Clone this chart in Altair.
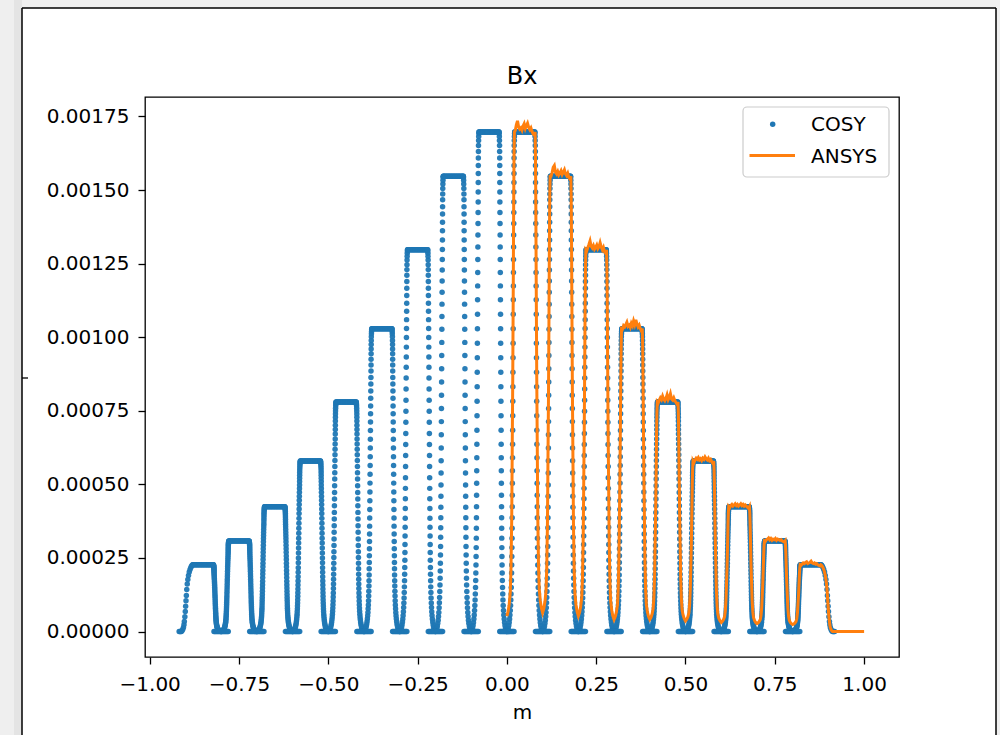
import altair as alt
import pandas as pd

# ---------------- values ----------------
pulse_centers = [-0.85, -0.75, -0.65, -0.55, -0.45, -0.35, -0.25, -0.15, -0.05,
                 0.05, 0.15, 0.25, 0.35, 0.45, 0.55, 0.65, 0.75, 0.85]
cosy_heights = [0.000227, 0.000308, 0.000424, 0.000579, 0.000780, 0.001029, 0.001297, 0.001547, 0.001697,
                0.001697, 0.001547, 0.001297, 0.001029, 0.000780, 0.000579, 0.000424, 0.000308, 0.000227]
plateau_half = 0.0305

# dots on one inner edge of a COSY pulse: fraction of height / outward distance from plateau edge
edge_frac = [0.000, 0.003, 0.007, 0.012, 0.018, 0.025, 0.033, 0.042, 0.052, 0.063,
             0.075, 0.088, 0.102, 0.117, 0.133, 0.150, 0.168, 0.187, 0.207, 0.228,
             0.250, 0.273, 0.297, 0.322, 0.348, 0.375, 0.403, 0.432, 0.461, 0.490,
             0.519, 0.548, 0.577, 0.606, 0.635, 0.664, 0.692, 0.719, 0.745, 0.770,
             0.794, 0.817, 0.839, 0.860, 0.880, 0.899, 0.917, 0.933, 0.948, 0.961,
             0.973, 0.983, 0.991, 0.997, 1.000]
edge_dx = [0.0190, 0.0172, 0.0156, 0.0142, 0.0130, 0.0119, 0.0109, 0.0100, 0.0092, 0.0085,
           0.0079, 0.0073, 0.0068, 0.0064, 0.0060, 0.0057, 0.0054, 0.0051, 0.0049, 0.0047,
           0.0045, 0.0043, 0.0041, 0.0039, 0.0037, 0.0035, 0.0033, 0.0031, 0.0029, 0.0027,
           0.0025, 0.0023, 0.0021, 0.0019, 0.0017, 0.0015, 0.0013, 0.0011, 0.0009, 0.0007,
           0.0005, 0.0003, 0.0001, -0.0001, -0.0002, -0.0003, -0.0004, -0.0005, -0.0006, -0.0008,
           -0.0010, -0.0013, -0.0016, -0.0020, -0.0025]
# outermost edges (x = -0.9 and x = +0.9 side)
outer_frac = [0.0, 0.01, 0.03, 0.06, 0.10, 0.15, 0.22, 0.30, 0.38, 0.46, 0.54,
              0.63, 0.71, 0.78, 0.84, 0.89, 0.93, 0.96, 0.98, 0.995, 1.0]
outer_dx = [0.031, 0.029, 0.027, 0.025, 0.0235, 0.0225, 0.021, 0.0198, 0.0188, 0.0178, 0.0168,
            0.0157, 0.0143, 0.0127, 0.0108, 0.0087, 0.0065, 0.0043, 0.0022, 0.0, -0.0015]
cosy_plateau = [-0.028, -0.026, -0.024, -0.022, -0.020, -0.018, -0.016, -0.014, -0.012, -0.010,
                -0.008, -0.006, -0.004, -0.002, 0.0, 0.002, 0.004, 0.006, 0.008, 0.010,
                0.012, 0.014, 0.016, 0.018, 0.020, 0.022, 0.024, 0.026, 0.028]
gap_positions = [-0.8, -0.7, -0.6, -0.5, -0.4, -0.3, -0.2, -0.1, 0.0,
                 0.1, 0.2, 0.3, 0.4, 0.5, 0.6, 0.7, 0.8]
gap_offsets = [-0.020, -0.0175, -0.015, -0.0125, -0.010, -0.0075, -0.005, -0.0025, 0.0,
               0.0025, 0.005, 0.0075, 0.010, 0.0125, 0.015, 0.0175, 0.020]
end_zero_dx = [0.033, 0.035, 0.037]

# ANSYS curve (x >= 0)
ansys_gap_levels = [0.000052, 0.000064, 0.000053, 0.000041, 0.000041, 0.000036, 0.000031, 0.000027, 0.000024]
ansys_edge_dx = [0.0195, 0.0160, 0.0130, 0.0100, 0.0080, 0.0060, 0.0045, 0.0030, 0.0015, 0.0005, -0.0005, -0.0015]
ansys_edge_frac = [0.0, 0.01, 0.025, 0.05, 0.10, 0.20, 0.35, 0.50, 0.70, 0.85, 0.95, 1.0]
ansys_plateau = [-0.0265, -0.0234, -0.0203, -0.0172, -0.0141, -0.0110, -0.0078, -0.0047, -0.0016,
                 0.0016, 0.0047, 0.0078, 0.0110, 0.0141, 0.0172, 0.0203, 0.0234, 0.0265]
ansys_noise_1e6 = [
    [5, 25, 38, 18, 10, 14, 6, 20, 28, 12, 22, 30, 16, 8, 14, 2, -6, -10],
    [0, 12, 30, 36, 14, 8, 16, 4, 10, 18, 6, 14, 22, 8, 2, 10, -4, -10],
    [-4, 8, 18, 30, 12, 6, 14, 2, 8, 16, 4, 10, 24, 10, 0, 8, -6, -12],
    [-2, 10, 6, 14, 22, 8, 12, 4, 18, 10, 26, 14, 30, 16, 6, 12, 0, -8],
    [-4, 6, 14, 8, 20, 10, 4, 12, 24, 8, 16, 28, 10, 6, 14, 4, -2, -8],
    [-6, 4, 10, 6, 12, 4, 8, 2, 10, 6, 14, 8, 4, 10, 2, 6, -2, -8],
    [-4, 4, 8, 2, 6, 10, 4, 8, 2, 6, 10, 4, 8, 2, 6, 2, -2, -6],
    [-2, 4, 6, 10, 4, 8, 2, 6, 4, 8, 2, 6, 4, 2, 4, 0, -2, -4],
    [-2, 2, 6, 4, 8, 10, 4, 6, 8, 12, 6, 4, 6, 2, 4, 0, -2, -4],
]
ansys_end_x = 1.0

x_ticks = [-1.0, -0.75, -0.5, -0.25, 0.0, 0.25, 0.5, 0.75, 1.0]
y_ticks = [0.0, 0.00025, 0.0005, 0.00075, 0.001, 0.00125, 0.0015, 0.00175]
legend_labels = ["COSY", "ANSYS"]
title_text = "Bx"
BLUE, ORANGE = "#1f77b4", "#ff7f0e"

# ---------------- build tables ----------------
cx, cy = [], []
n = len(pulse_centers)
for i, (c, h) in enumerate(zip(pulse_centers, cosy_heights)):
    lf, ld = (outer_frac, outer_dx) if i == 0 else (edge_frac, edge_dx)
    rf, rd = (outer_frac, outer_dx) if i == n - 1 else (edge_frac, edge_dx)
    for f, d in zip(lf, ld):
        cx.append(c - plateau_half - d); cy.append(f * h)
    for o in cosy_plateau:
        cx.append(c + o); cy.append(h)
    for f, d in zip(rf, rd):
        cx.append(c + plateau_half + d); cy.append(f * h)
for g in gap_positions:
    for o in gap_offsets:
        cx.append(g + o); cy.append(0.0)
for d in end_zero_dx:
    cx.append(pulse_centers[0] - plateau_half - d); cy.append(0.0)
    cx.append(pulse_centers[-1] + plateau_half + d); cy.append(0.0)
cosy = pd.DataFrame({"x": cx, "y": cy})

ax, ay = [], []
right_c = pulse_centers[9:]
right_h = cosy_heights[9:]
for k, (c, h) in enumerate(zip(right_c, right_h)):
    dl = ansys_gap_levels[k]
    for d, f in zip(ansys_edge_dx, ansys_edge_frac):
        ax.append(c - plateau_half - d); ay.append(dl + f * (h - dl))
    for o, e in zip(ansys_plateau, ansys_noise_1e6[k]):
        ax.append(c + o); ay.append(h + e * 1e-6)
    if k < len(right_c) - 1:
        dr = ansys_gap_levels[k + 1]
        for d, f in list(zip(ansys_edge_dx, ansys_edge_frac))[::-1][:-1]:
            ax.append(c + plateau_half + d); ay.append(dr + f * (h - dr))
    else:
        for d, f in list(zip(outer_dx, outer_frac))[::-1]:
            ax.append(c + plateau_half + d); ay.append(f * h)
        ax.append(ansys_end_x); ay.append(0.0)
ansys = pd.DataFrame({"x": ax, "y": ay, "i": list(range(len(ax)))})

# ---------------- chart ----------------
W, H = 754, 560
L, T = 145, 97
FONT = "DejaVu Sans"

xs = alt.Scale(domain=[-1.0131, 1.0977], nice=False, zero=False)
ys = alt.Scale(domain=[-0.0000865, 0.001816], nice=False, zero=False)
xaxis = alt.Axis(values=x_ticks, labelExpr="replace(format(datum.value, '.2f'), '-', '\u2212')",
                 title="m", titleY=61, titleBaseline="alphabetic", titleFontSize=20,
                 titleFont=FONT, titleFontWeight="normal", titleColor="black",
                 labelBaseline="alphabetic", labelPadding=26, grid=False, domain=False)
yaxis = alt.Axis(values=y_ticks, format=".5f", title=None, labelPadding=9, grid=False, domain=False)

pts = alt.Chart(cosy).mark_circle(size=30, color=BLUE, opacity=0.95).encode(
    x=alt.X("x:Q", scale=xs, axis=xaxis),
    y=alt.Y("y:Q", scale=ys, axis=yaxis),
)
line = alt.Chart(ansys).mark_line(color=ORANGE, strokeWidth=3).encode(
    x=alt.X("x:Q", scale=xs), y=alt.Y("y:Q", scale=ys), order="i:Q"
)

one = pd.DataFrame({"a": [0]})

def rect(x1, x2, y1, y2, **kw):
    return alt.Chart(one).mark_rect(**kw).encode(
        x=alt.value(x1 - L), x2=alt.value(x2 - L), y=alt.value(y1 - T), y2=alt.value(y2 - T))

def rule(x1, x2, y1, y2, **kw):
    return alt.Chart(one).mark_rule(**kw).encode(
        x=alt.value(x1 - L), x2=alt.value(x2 - L), y=alt.value(y1 - T), y2=alt.value(y2 - T))

def text(s, x, y, size, **kw):
    return alt.Chart(one).mark_text(baseline="alphabetic", fontSize=size, font=FONT,
                                    color="black", **kw).encode(
        x=alt.value(x - L), y=alt.value(y - T), text=alt.value(s))

decor = [
    rect(0, 1000, 0, 8, color="#efefef"),
    rect(0, 22, 0, 735, color="#efefef"),
    rect(14, 22, 0, 735, color="#e4e4e4"),
    rect(996, 1000, 0, 735, color="#efefef"),
    rule(22, 22, 8, 735, color="black", strokeWidth=1.5),
    rule(22, 996, 8, 8, color="black", strokeWidth=1.5),
    rule(996, 996, 8, 735, color="black", strokeWidth=1.5),
    rule(22, 28, 378, 378, color="black", strokeWidth=1.3),
    text(title_text, 522, 84, 24, align="center"),
]

leg = [
    rect(743, 889, 107, 177, fill="white", stroke="#cccccc", strokeWidth=1.2, cornerRadius=4),
    alt.Chart(one).mark_circle(size=30, color=BLUE, opacity=1).encode(
        x=alt.value(772.7 - L), y=alt.value(124.3 - T)),
    rule(749.5, 795, 155.5, 155.5, color=ORANGE, strokeWidth=3),
    text(legend_labels[0], 811, 131, 20, align="left"),
    text(legend_labels[1], 811, 163, 20, align="left"),
]

chart = alt.layer(*decor, pts, line, *leg).properties(
    width=W, height=H,
    autosize=alt.AutoSizeParams(type="none"),
    padding={"left": L, "top": T, "right": 1000 - L - W, "bottom": 735 - T - H},
    background="white",
).configure_view(stroke="black", strokeWidth=1.3).configure_axis(
    labelFont=FONT, labelFontSize=20, labelColor="black",
    tickColor="black", tickSize=7, tickWidth=1.3,
)

chart.save("out.html", embed_options={"renderer": "svg", "actions": False})
